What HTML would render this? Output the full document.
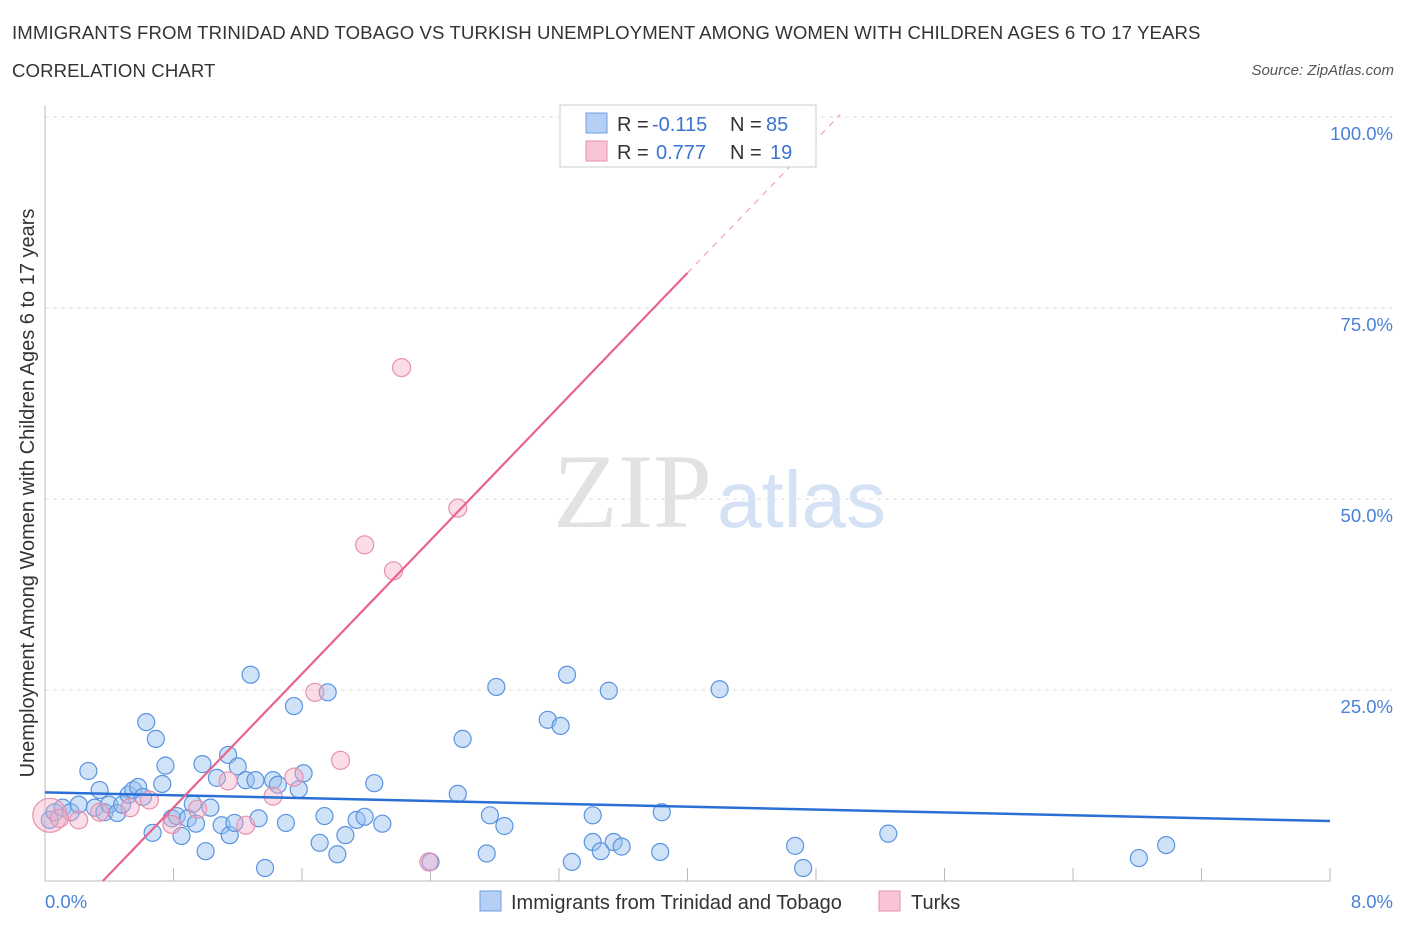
<!DOCTYPE html>
<html><head><meta charset="utf-8"><style>
body{margin:0;background:#fff;font-family:"Liberation Sans",sans-serif;}
#wrap{position:relative;width:1406px;height:930px;}
.t{position:absolute;white-space:nowrap;}
</style></head><body>
<div id="wrap">
<div class="t" style="left:12px;top:22px;font-size:18.6px;color:#333;letter-spacing:0.1px;">IMMIGRANTS FROM TRINIDAD AND TOBAGO VS TURKISH UNEMPLOYMENT AMONG WOMEN WITH CHILDREN AGES 6 TO 17 YEARS</div>
<div class="t" style="left:12px;top:60px;font-size:18.6px;color:#333;letter-spacing:0.1px;">CORRELATION CHART</div>
<div class="t" style="right:12px;top:62px;font-size:15px;color:#555;font-style:italic;">Source: ZipAtlas.com</div>
<svg id="svg" width="1406" height="930" style="position:absolute;left:0;top:0"></svg>
</div>
<script>
const xTicks=[0,0.8,1.6,2.4,3.2,4.0,4.8,5.6,6.4,7.2,8.0];
const yTicks=[25,50,75,100];
const yTickLabels=["25.0%","50.0%","75.0%","100.0%"];
const blueX=[0.03,0.06,0.11,0.16,0.21,0.27,0.31,0.34,0.37,0.40,0.45,0.48,0.52,0.55,0.58,0.61,0.63,0.67,0.69,0.73,0.75,0.79,0.82,0.85,0.89,0.92,0.94,0.98,1.00,1.03,1.07,1.10,1.14,1.15,1.18,1.20,1.25,1.28,1.31,1.33,1.37,1.42,1.45,1.50,1.55,1.58,1.61,1.71,1.74,1.76,1.82,1.87,1.94,1.99,2.05,2.10,2.40,2.57,2.60,2.75,2.77,2.81,2.86,3.13,3.21,3.25,3.28,3.41,3.41,3.46,3.51,3.54,3.59,3.83,3.84,4.20,4.67,4.72,5.25,6.81,6.98];
const blueY=[8.0,9.0,9.6,9.0,10.0,14.4,9.6,11.9,9.0,10.0,8.9,10.0,11.3,11.9,12.3,11.0,20.8,6.3,18.6,12.7,15.1,8.2,8.5,5.9,8.2,10.1,7.5,15.3,3.9,9.6,13.5,7.3,16.5,6.0,7.6,15.0,13.2,27.0,13.2,8.2,1.7,13.2,12.6,7.6,22.9,12.0,14.1,5.0,8.5,24.7,3.5,6.0,8.0,8.4,12.8,7.5,2.5,11.4,18.6,3.6,8.6,25.4,7.2,21.1,20.3,27.0,2.5,8.6,5.1,3.9,24.9,5.1,4.5,3.8,9.0,25.1,4.6,1.7,6.2,3.0,4.7];
const pinkX=[0.03,0.09,0.21,0.34,0.53,0.65,0.79,0.95,1.14,1.25,1.42,1.55,1.68,1.84,1.99,2.17,2.22,2.39,2.57,3.57];
const pinkY=[8.6,8.2,8.0,9.0,9.6,10.6,7.4,9.4,13.1,7.3,11.1,13.6,24.7,15.8,44.0,40.6,67.2,2.5,48.8,99.9];
const pinkSize=[18,10,10,10,10,10,10,10,10,10,10,10,10,10,10,10,10,10,10,10];
const blueLine=[[0,11.6],[8.0,7.85]];
const pinkLine=[[0.36,0],[4.0,79.6]];
const pinkDash=[[4.0,79.6],[4.95,100.3]];

const X0=45,X1=1330,Y0=881,Y100=117;
const sx=v=>X0+(X1-X0)*v/8;
const sy=v=>Y0-(Y0-Y100)*v/100;
const svg=document.getElementById('svg');
const NS='http://www.w3.org/2000/svg';
function mk(tag,attrs,parent){const e=document.createElementNS(NS,tag);for(const k in attrs)e.setAttribute(k,attrs[k]);(parent||svg).appendChild(e);return e;}
yTicks.forEach((t,i)=>{
 const g=mk('line',{x1:X0,x2:1392,y1:sy(t),y2:sy(t),stroke:'#ddd','stroke-dasharray':'4,4'});
 
 
 const tx=mk('text',{x:1393,y:sy(t)+23,'text-anchor':'end','font-size':18.5,fill:'#4a80d8','font-family':'Liberation Sans'});
 tx.textContent=yTickLabels[i];
 
 
});
let a=mk('line',{x1:X0,x2:X0,y1:105,y2:Y0,stroke:'#bbb'});

a=mk('line',{x1:X0,x2:X1,y1:Y0,y2:Y0,stroke:'#bbb'});

xTicks.forEach(t=>{const l=mk('line',{x1:sx(t),x2:sx(t),y1:Y0,y2:Y0-13,stroke:'#bbb'});
 
 });
let w=mk('text',{x:553,y:527,'font-size':106,fill:'#e2e2e2','font-family':'Liberation Serif'});w.textContent='ZIP';

w=mk('text',{x:717,y:527,'font-size':80,fill:'#d5e2f5','font-family':'Liberation Sans'});w.textContent='atlas';

blueX.forEach((x,i)=>{const c=mk('circle',{cx:sx(x),cy:sy(blueY[i]),r:8.5,fill:'rgba(150,190,240,0.45)',stroke:'#5a94e0','stroke-width':1.2});
 
 });
pinkX.forEach((x,i)=>{const c=mk('circle',{cx:sx(x),cy:sy(pinkY[i]),r:pinkSize[i]-1,fill:'rgba(245,170,195,0.4)',stroke:'#e890ae','stroke-width':1.2});
 
 });
let l=mk('line',{x1:sx(blueLine[0][0]),y1:sy(blueLine[0][1]),x2:sx(blueLine[1][0]),y2:sy(blueLine[1][1]),stroke:'#2a6fd6','stroke-width':2.5});

l=mk('line',{x1:sx(pinkLine[0][0]),y1:sy(pinkLine[0][1]),x2:sx(pinkLine[1][0]),y2:sy(pinkLine[1][1]),stroke:'#e8638e','stroke-width':2.2});

l=mk('line',{x1:sx(pinkDash[0][0]),y1:sy(pinkDash[0][1]),x2:sx(pinkDash[1][0]),y2:sy(pinkDash[1][1]),stroke:'#f0a0b8','stroke-width':1.2,'stroke-dasharray':'6,6'});

let xl=mk('text',{x:45,y:908,'font-size':18.5,fill:'#4a80d8','font-family':'Liberation Sans'});xl.textContent='0.0%';

xl=mk('text',{x:1393,y:908,'text-anchor':'end','font-size':18.5,fill:'#4a80d8','font-family':'Liberation Sans'});xl.textContent='8.0%';

let yt=mk('text',{x:0,y:0,transform:'translate(34,493) rotate(-90)','text-anchor':'middle','font-size':20,fill:'#333','font-family':'Liberation Sans'});
yt.textContent='Unemployment Among Women with Children Ages 6 to 17 years';

let g=mk('g',{});
mk('rect',{x:560,y:105,width:256,height:62,fill:'#fff',stroke:'#ccc'},g);
mk('rect',{x:586,y:113,width:21,height:20,fill:'#b6d0f5',stroke:'#6f9fe0'},g);
mk('rect',{x:586,y:141,width:21,height:20,fill:'#f9c4d4',stroke:'#e890ae'},g);
function tt(x,y,s,c,p){const e=mk('text',{x:x,y:y,'font-size':20,fill:c,'font-family':'Liberation Sans'},p);e.textContent=s;return e;}
tt(617,131,'R =','#333',g);tt(652,131,'-0.115','#3b73d0',g);tt(730,131,'N =','#333',g);tt(766,131,'85','#3b73d0',g);
tt(617,159,'R =','#333',g);tt(656,159,'0.777','#3b73d0',g);tt(730,159,'N =','#333',g);tt(770,159,'19','#3b73d0',g);
g=mk('g',{});
mk('rect',{x:480,y:891,width:21,height:20,fill:'#b6d0f5',stroke:'#6f9fe0'},g);
tt(511,909,'Immigrants from Trinidad and Tobago','#333',g);
mk('rect',{x:879,y:891,width:21,height:20,fill:'#f9c4d4',stroke:'#e890ae'},g);
tt(911,909,'Turks','#333',g);
</script>
</body></html>
